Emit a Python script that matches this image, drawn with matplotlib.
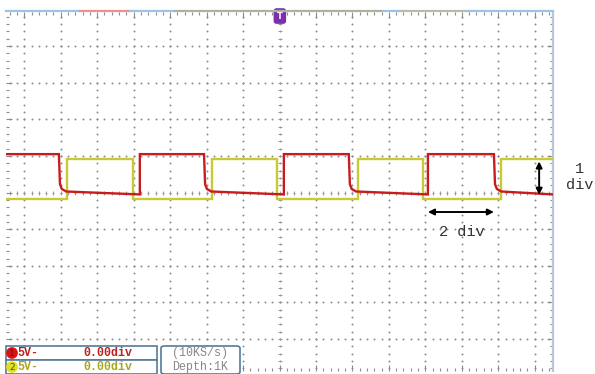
import numpy as np
import matplotlib
matplotlib.use("Agg")
import matplotlib.pyplot as plt
from matplotlib.patches import Rectangle, FancyBboxPatch

# ---- waveform data, in screen divisions ----
ch1_fall = [1.45, 5.43, 9.40, 13.38]
ch1_rise = [3.67, 7.62, 11.57]
ch1_high = 5.05
ch1_low_start = 4.03
ch1_low_end = 3.95

ch2_rise = [1.67, 5.65, 9.65, 13.57]
ch2_fall = [3.48, 7.43, 11.43]
ch2_high = 4.93
ch2_low = 3.82

# ---- channel / acquisition readouts ----
ch_labels = ["5V-", "5V-"]
ch_offsets = ["0.00div", "0.00div"]
acq_labels = ["(10KS/s)", "Depth:1K"]

RED = "#c81c1c"
YEL = "#c9c935"
MONO = ["Liberation Mono", "DejaVu Sans Mono"]

W, H = 595, 374
fig = plt.figure(figsize=(W / 100, H / 100), dpi=100)
fig.patch.set_facecolor("white")


def fx(px):
    return px / W


def fy(py):
    return 1 - py / H


X0, X1, Y0, Y1 = 6, 553, 12, 371
ax = fig.add_axes([fx(X0), fy(Y1), fx(X1) - fx(X0), fy(Y0) - fy(Y1)])
ax.set_xlim(0, 15)
ax.set_ylim(-0.87, 8.93)
ax.set_facecolor("white")

# dotted graticule
vlines = np.arange(0.5, 15, 1.0)
hlines = np.arange(0, 9, 1.0)
gx, gy = [], []
for v in vlines:
    ys = np.arange(-0.8, 8.93, 0.2)
    gx += [v] * len(ys)
    gy += list(ys)
for h in hlines:
    xs = np.arange(0.1, 15, 0.2)
    gx += list(xs)
    gy += [h] * len(xs)
ax.scatter(gx, gy, s=2.0, color="#8c8c8c", linewidths=0, zorder=1)

# centre axes with small cross ticks
cy = np.arange(-0.8, 8.93, 0.2)
ax.plot([7.5] * len(cy), cy, linestyle="none", marker="_", ms=3, mew=0.7,
        color="#9a9a9a", zorder=1)
cx = np.arange(0.1, 15, 0.2)
ax.plot(cx, [4.0] * len(cx), linestyle="none", marker="|", ms=2.5, mew=0.7,
        color="#9a9a9a", zorder=1)

# edge ticks
ax.set_xticks(vlines)
ax.set_xticks(np.arange(0.1, 15, 0.2), minor=True)
ax.set_yticks(hlines)
ax.set_yticks(np.arange(-0.8, 8.93, 0.2), minor=True)
ax.tick_params(which="both", direction="in", top=True, right=True,
               labelbottom=False, labelleft=False, color="#8c8c8c", width=0.8)
ax.tick_params(which="major", length=4)
ax.tick_params(which="minor", length=2)
for s in ["left", "bottom", "top"]:
    ax.spines[s].set_visible(False)
ax.spines["right"].set_color("#b4c8dc")
ax.spines["right"].set_linewidth(1.6)

# CH1 trace (red) with rounded falling corner and slight droop
rx, ry = [0.0], [ch1_high]
edges = sorted([(t, "f") for t in ch1_fall] + [(t, "r") for t in ch1_rise])
for t, kind in edges:
    if kind == "f":
        rx += [t, t + 0.03, t + 0.08, t + 0.2]
        ry += [ch1_high, ch1_low_start + 0.2, ch1_low_start + 0.07, ch1_low_start]
    else:
        rx += [t, t]
        ry += [ch1_low_end, ch1_high]
rx.append(15.0)
ry.append(ch1_low_end)

# CH2 trace (yellow)
yx, yy = [0.0], [ch2_low]
edges2 = sorted([(t, "r") for t in ch2_rise] + [(t, "f") for t in ch2_fall])
for t, kind in edges2:
    if kind == "r":
        yx += [t, t]
        yy += [ch2_low, ch2_high]
    else:
        yx += [t, t]
        yy += [ch2_high, ch2_low]
yx.append(15.0)
yy.append(ch2_high)

ax.plot(yx, yy, color=YEL, lw=1.7, zorder=3, solid_joinstyle="miter")
ax.plot(rx, ry, color=RED, lw=1.7, zorder=4, solid_joinstyle="miter")

# dimension arrows
ax.annotate("", xy=(ch1_fall[3], 3.47), xytext=(ch1_rise[2], 3.47),
            arrowprops=dict(arrowstyle="<|-|>", color="black", lw=1.4,
                            mutation_scale=9, shrinkA=0, shrinkB=0), zorder=5)
ax.text(12.5, 2.92, "2 div", fontsize=11, family=MONO, color="#333333",
        ha="center", va="center", zorder=5)
ax.annotate("", xy=(14.62, ch2_high - 0.08), xytext=(14.62, 3.94),
            arrowprops=dict(arrowstyle="<|-|>", color="black", lw=1.4,
                            mutation_scale=9, shrinkA=0, shrinkB=0), zorder=5)
ax.text(15.74, 4.65, "1", fontsize=11, family=MONO, color="#333333",
        ha="center", va="center", clip_on=False)
ax.text(15.74, 4.21, "div", fontsize=11, family=MONO, color="#333333",
        ha="center", va="center", clip_on=False)

# trigger position marker
ax.text(7.51, 8.82, "T", fontsize=6, color="white", fontweight="bold",
        ha="center", va="center", zorder=6,
        bbox=dict(boxstyle="round,pad=0.4,rounding_size=0.35", fc="#7a2fb0", ec="none"))

# memory position bar along the top edge
bar = [(6, 80, "#9cc3e6"), (80, 130, "#f09090"), (130, 175, "#9cc3e6"),
       (175, 383, "#aab49c"), (383, 400, "#9cc3e6"), (400, 468, "#b4bcae"),
       (468, 553, "#9cc3e6")]
for a, b, c in bar:
    fig.add_artist(plt.Line2D([fx(a), fx(b)], [fy(10.5), fy(10.5)], color=c,
                              lw=1.6, transform=fig.transFigure))

# readout boxes
BOX = "#557a98"
for top in (346, 360):
    fig.add_artist(Rectangle((fx(6), fy(top + 14)), fx(157) - fx(6), 14 / H,
                             transform=fig.transFigure, fc="white", ec=BOX, lw=1.2))
fig.add_artist(FancyBboxPatch((fx(161), fy(374)), fx(240) - fx(161), 28 / H,
                              boxstyle="round,pad=0,rounding_size=0.006",
                              transform=fig.transFigure, fc="white", ec=BOX, lw=1.2))

row_y = [353, 367]
badge_col = ["#e01010", "#e0e020"]
text_col = ["#c02020", "#a8a820"]
for i in range(2):
    fig.text(fx(12), fy(row_y[i]), str(i + 1), fontsize=6.5,
             color="#601010" if i == 0 else "#505010",
             ha="center", va="center",
             bbox=dict(boxstyle="circle,pad=0.15", fc=badge_col[i], ec="none"))
    fig.text(fx(17), fy(row_y[i]), ch_labels[i], fontsize=8.4, family=MONO,
             color=text_col[i], ha="left", va="center", fontweight="bold")
    fig.text(fx(83), fy(row_y[i]), ch_offsets[i], fontsize=8.4, family=MONO,
             color=text_col[i], ha="left", va="center", fontweight="bold")
    fig.text(fx(200), fy(row_y[i]), acq_labels[i], fontsize=8.4, family=MONO,
             color="#888888", ha="center", va="center")

fig.savefig("out.png", dpi=100)
